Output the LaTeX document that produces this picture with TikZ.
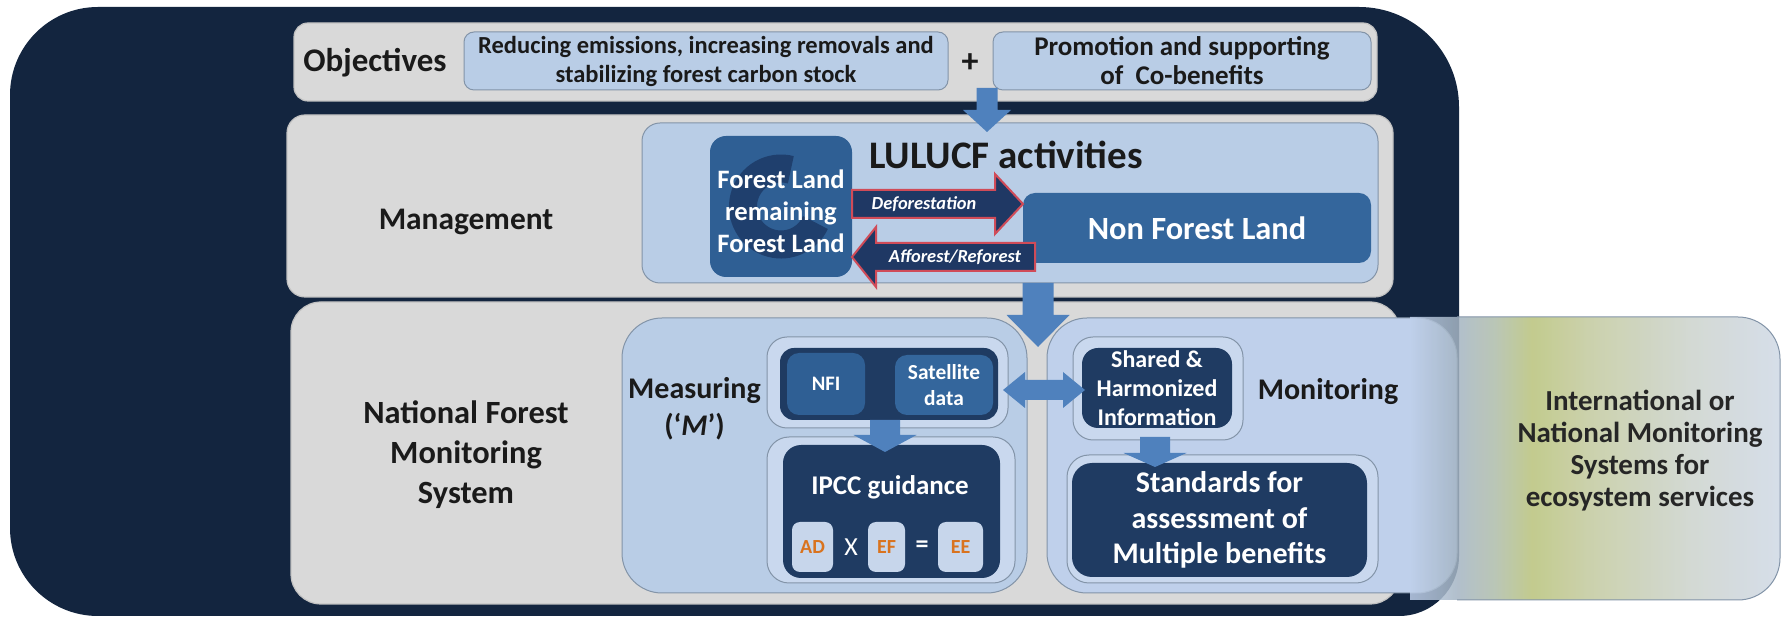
\documentclass[tikz,border=0pt]{standalone}
\usepackage{fontspec}
\setmainfont{Carlito}
\usetikzlibrary{calc}
\definecolor{bgnavy}{HTML}{13253F}
\definecolor{rowgrey}{HTML}{D9D9D9}
\definecolor{rowedge}{HTML}{C2C2C2}
\definecolor{lblue}{HTML}{B9CDE6}
\definecolor{lblueM}{HTML}{BFD0EB}
\definecolor{boxedge}{HTML}{8394A8}
\definecolor{frameblue}{HTML}{C9D8EE}
\definecolor{darkbox}{HTML}{1F3B62}
\definecolor{midbox}{HTML}{2F5F94}
\definecolor{midbox2}{HTML}{34669C}
\definecolor{arrowblue}{HTML}{4F81BD}
\definecolor{arrownavy}{HTML}{1F3864}
\definecolor{redline}{HTML}{D04B58}
\definecolor{orangeT}{HTML}{D9731E}
\definecolor{eqbox}{HTML}{C7D6EB}
\definecolor{ink}{HTML}{1A1A1A}
\definecolor{iconcol}{HTML}{1A3560}
\definecolor{gA}{HTML}{BFD0EB}
\definecolor{gB}{HTML}{A4B4C3}
\definecolor{gC}{HTML}{AEBCA9}
\definecolor{gD}{HTML}{B8C27A}
\definecolor{gE}{HTML}{C2C99D}
\definecolor{gF}{HTML}{CBD2CC}
\definecolor{gG}{HTML}{CFD8E5}
\pgfdeclarehorizontalshading{intl}{100bp}{color(0bp)=(gA); color(25bp)=(gA); color(31.35bp)=(gB); color(36.5bp)=(gC); color(41.5bp)=(gD); color(49bp)=(gE); color(63bp)=(gF); color(75bp)=(gG); color(100bp)=(gG)}
\newcommand{\tsz}[2]{\fontsize{#1}{#2}\selectfont\bfseries}
% block arrows between named coordinates: start, end, shaft half, head half, head length, style
\newcommand{\rblock}[6]{\path[#6] let \p1=(#1), \p2=(#2) in (\x1,\y1+#3) -- (\x2-#5,\y1+#3) -- (\x2-#5,\y1+#4) -- (\x2,\y2) -- (\x2-#5,\y1-#4) -- (\x2-#5,\y1-#3) -- (\x1,\y1-#3) -- cycle;}
\newcommand{\lblock}[6]{\path[#6] let \p1=(#1), \p2=(#2) in (\x1,\y1+#3) -- (\x2+#5,\y1+#3) -- (\x2+#5,\y1+#4) -- (\x2,\y2) -- (\x2+#5,\y1-#4) -- (\x2+#5,\y1-#3) -- (\x1,\y1-#3) -- cycle;}
\newcommand{\dblock}[6]{\path[#6] let \p1=(#1), \p2=(#2) in (\x1-#3,\y1) -- (\x1+#3,\y1) -- (\x1+#3,\y2+#5) -- (\x1+#4,\y2+#5) -- (\x2,\y2) -- (\x1-#4,\y2+#5) -- (\x1-#3,\y2+#5) -- cycle;}
\newcommand{\hdblock}[6]{\path[#6] let \p1=(#1), \p2=(#2) in (\x1,\y1) -- (\x1+#5,\y1+#4) -- (\x1+#5,\y1+#3) -- (\x2-#5,\y1+#3) -- (\x2-#5,\y1+#4) -- (\x2,\y2) -- (\x2-#5,\y1-#4) -- (\x2-#5,\y1-#3) -- (\x1+#5,\y1-#3) -- (\x1+#5,\y1-#4) -- cycle;}
\begin{document}
\begin{tikzpicture}[x=0.5pt,y=-0.5pt,
  row/.style={fill=rowgrey, draw=rowedge, line width=0.6pt, inner sep=0pt, outer sep=0pt},
  lbox/.style={fill=lblue, draw=boxedge, line width=0.5pt, inner sep=0pt, outer sep=0pt},
  framebox/.style={fill=frameblue, draw=boxedge, line width=0.5pt, inner sep=0pt, outer sep=0pt},
  dbox/.style={fill=darkbox, inner sep=0pt, outer sep=0pt, text=white, align=center},
  mbox/.style={fill=midbox, inner sep=0pt, outer sep=0pt, text=white, align=center},
  eqb/.style={fill=eqbox, inner sep=0pt, outer sep=0pt, rounded corners=4pt, text=orangeT, font=\tsz{10pt}{12pt}, minimum height=25pt},
  lbl/.style={text=ink, align=center, inner sep=0pt},
  wlbl/.style={text=white, align=center, inner sep=0pt},
  barrow/.style={fill=arrowblue},
  navarrow/.style={fill=arrownavy, draw=redline, line width=1pt, line join=miter}
]
\useasboundingbox (0,0) rectangle (1783,619);
% dark background
\fill[bgnavy] (10,95) arc[start angle=180,end angle=90,radius=44pt] -- (1359,7) arc[start angle=90,end angle=0,radius=50pt] -- (1459,556) arc[start angle=0,end angle=-90,radius=30pt] -- (98,616) arc[start angle=-90,end angle=-180,radius=44pt] -- cycle;

% rows
\node[row, rounded corners=7pt, minimum width=541.5pt, minimum height=39pt] (objrow) at (835.5,62) {};
\node[row, rounded corners=9pt, minimum width=553pt, minimum height=91pt] (mgmtrow) at (840,206) {};
\node[row, rounded corners=15pt, minimum width=554.5pt, minimum height=151pt] (nfmsrow) at (845.5,453) {};

% objectives
\node[lbl, font=\tsz{16.5pt}{19pt}] (objlbl) at (375,63) {Objectives};
\node[lbox, rounded corners=5pt, minimum width=242pt, minimum height=29pt, text=ink, align=center, font=\tsz{12.25pt}{14.5pt}] (obj1) at (706,61) {Reducing emissions, increasing removals and\\stabilizing forest carbon stock};
\node[lbl, font=\tsz{17pt}{17pt}] (plus) at (970,63) {+};
\node[lbox, rounded corners=5pt, minimum width=189pt, minimum height=29pt, text=ink, align=center, font=\tsz{13.5pt}{14.5pt}] (obj2) at (1182,61) {Promotion and supporting\\of\ \ Co-benefits};

% management
\node[lbl, font=\tsz{15.7pt}{18pt}] (mgmtlbl) at (466,222) {Management};
\node[lbox, rounded corners=9pt, minimum width=368pt, minimum height=80pt] (lulucf) at (1010,203) {};
\node[lbl, font=\tsz{19.5pt}{22pt}] (lulucflbl) at (1006,155) {LULUCF activities};
\node[mbox, rounded corners=8pt, minimum width=71pt, minimum height=70.5pt] (forest) at (781,206.5) {};
\draw[iconcol, opacity=0.75, line width=14pt] ([shift={(75:19pt)}]forest.center) arc[start angle=75, end angle=335, radius=19pt];
\node[wlbl, font=\tsz{13.3pt}{16pt}] (forestlbl) at (781,211.5) {Forest Land\\remaining\\Forest Land};
\node[mbox, fill=midbox2, rounded corners=6pt, minimum width=174pt, minimum height=35pt, font=\tsz{16.2pt}{18pt}] (nonforest) at (1197,228) {Non Forest Land};

\coordinate (dfs) at ([yshift=1.25pt]forest.east);
\coordinate (dfe) at (nonforest.west |- dfs);
\rblock{dfs}{dfe}{7pt}{15pt}{14pt}{navarrow}
\node[wlbl, font=\tsz{9.2pt}{11pt}\itshape] (deflbl) at (924,204) {Deforestation};
\coordinate (afe) at ([yshift=-25.25pt]forest.east);
\coordinate (afs) at ([xshift=6pt]nonforest.west |- afe);
\lblock{afs}{afe}{7pt}{15pt}{12pt}{navarrow}
\node[wlbl, font=\tsz{9.2pt}{11pt}\itshape] (afflbl) at (955,257) {Afforest/Reforest};

% objectives -> LULUCF arrow
\coordinate (a1s) at (987,88);
\coordinate (a1e) at (987,132);
\dblock{a1s}{a1e}{5.25pt}{12pt}{11pt}{barrow}

% NFMS
\node[lbl, font=\tsz{16.2pt}{20pt}] (nfmslbl) at (466,455) {National Forest\\Monitoring\\System};
\node[lbox, rounded corners=20pt, minimum width=202.5pt, minimum height=137.5pt] (meas) at (824.5,455.5) {};
\node[lbox, fill=lblueM, rounded corners=20pt, minimum width=205pt, minimum height=137.5pt] (moni) at (1252,455.5) {};
\node[lbl, font=\tsz{15pt}{18.5pt}] (measlbl) at (694.5,408.5) {Measuring\\(‘\textit{M}’)};

% measuring: data sources
\node[framebox, rounded corners=10pt, minimum width=120.5pt, minimum height=45.5pt] (srcframe) at (887.5,382.5) {};
\node[dbox, rounded corners=7pt, minimum width=109pt, minimum height=36pt] (srcbox) at (889,384) {};
\node[mbox, rounded corners=6pt, minimum width=39pt, minimum height=31pt, font=\tsz{10.3pt}{13pt}] (nfi) at (826,384) {NFI};
\node[mbox, fill=midbox2, rounded corners=6pt, minimum width=49pt, minimum height=30pt, font=\tsz{10.7pt}{13pt}] (sat) at (944,385) {Satellite\\data};

% IPCC
\node[framebox, rounded corners=11pt, minimum width=124pt, minimum height=73pt] (ipccframe) at (891,510) {};
\node[dbox, rounded corners=9pt, minimum width=108.5pt, minimum height=66.5pt] (ipcc) at (891.5,511.5) {};
\node[wlbl, font=\tsz{13.5pt}{16pt}] (ipcclbl) at (890,487) {IPCC guidance};
\node[eqb, minimum width=20.5pt] (ad) at (812.5,547) {AD};
\node[wlbl, font=\fontsize{13pt}{15pt}\selectfont] (times) at (851,547) {X};
\node[eqb, minimum width=18.5pt] (ef) at (886.5,547) {EF};
\node[wlbl, font=\tsz{13pt}{15pt}] (equals) at (922,547) {=};
\node[eqb, minimum width=22.5pt] (ee) at (960.5,547) {EE};

% monitoring
\node[framebox, rounded corners=10pt, minimum width=85pt, minimum height=51.5pt] (shframe) at (1158,388.5) {};
\node[dbox, rounded corners=8pt, minimum width=75pt, minimum height=40pt, font=\tsz{12pt}{14.5pt}] (shared) at (1157,388) {Shared \&\\Harmonized\\Information};
\node[lbl, font=\tsz{15pt}{18pt}] (monilbl) at (1328,392) {Monitoring};
\node[framebox, rounded corners=11pt, minimum width=155.5pt, minimum height=64pt] (stframe) at (1222.5,519) {};
\node[dbox, rounded corners=10pt, minimum width=147.5pt, minimum height=57pt, font=\tsz{15pt}{17.8pt}] (standards) at (1219.5,520) {Standards for\\assessment of\\Multiple benefits};

% arrows in NFMS
\coordinate (a2s) at (1038,283);
\coordinate (a2e) at (1038,347);
\dblock{a2s}{a2e}{7.75pt}{15.75pt}{16pt}{barrow}
\coordinate (a3s) at (885,420);
\coordinate (a3e) at (885,452);
\dblock{a3s}{a3e}{7.5pt}{15.75pt}{8.5pt}{barrow}
\coordinate (a4s) at (1155,437);
\coordinate (a4e) at (1155,467);
\dblock{a4s}{a4e}{7.5pt}{15.75pt}{7pt}{barrow}
\coordinate (dbl1) at (1003,390);
\coordinate (dbl2) at (1085,390);
\hdblock{dbl1}{dbl2}{5pt}{9pt}{11pt}{barrow}

% international box (semi-transparent, square on the left where it overlaps)
\shade[shading=intl, opacity=0.85] (1410,317) -- (1738,317) arc[start angle=90,end angle=0,radius=21pt] -- (1780,558) arc[start angle=0,end angle=-90,radius=21pt] -- (1410,600) -- cycle;
\draw[boxedge, line width=0.5pt] (1457,317) -- (1738,317) arc[start angle=90,end angle=0,radius=21pt] -- (1780,558) arc[start angle=0,end angle=-90,radius=21pt] -- (1457,600);
\node[lbl, text=black!85, font=\tsz{14.5pt}{16pt}] (intllbl) at (1640,451) {International or\\National Monitoring\\Systems for\\ecosystem services};
\end{tikzpicture}
\end{document}
